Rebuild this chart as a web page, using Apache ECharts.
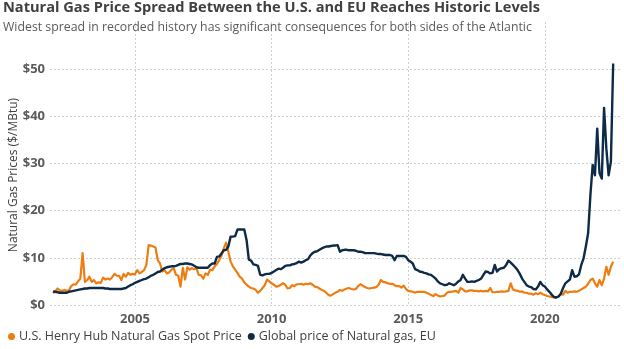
<!DOCTYPE html>
<html>
<head>
<meta charset="utf-8">
<script src="https://cdn.jsdelivr.net/npm/echarts@6/dist/echarts.min.js"></script>
<style>
  html, body { margin: 0; padding: 0; background: #ffffff; }
  #chart { width: 624px; height: 349px; }
</style>
</head>
<body>
<div id="chart"></div>
<script>
// Monthly prices in $/MBtu, January 2002 through July 2022
const firstYear = 2002;

const henryHub = [
  2.5, 2.9, 3.5, 3.1, 3.0, 3.2, 3.0, 3.1, 4.0, 4.4, 4.3, 5.0,      // 2002
  5.6, 11.0, 4.9, 5.3, 6.0, 4.9, 5.3, 4.6, 4.8, 4.7, 5.8, 5.4,     // 2003
  5.6, 5.4, 5.9, 6.6, 6.2, 6.2, 5.3, 6.6, 6.0, 6.8, 6.4, 6.6,      // 2004
  6.5, 7.4, 6.7, 7.0, 7.4, 8.5, 12.7, 12.6, 12.4, 12.2, 9.5, 8.8,  // 2005
  7.1, 7.4, 6.7, 6.9, 7.5, 7.8, 6.4, 6.2, 3.9, 7.9, 5.4, 8.0,      // 2006
  7.5, 7.8, 7.6, 7.8, 6.4, 6.3, 5.6, 6.7, 6.4, 7.5, 7.4, 8.2,      // 2007
  8.7, 9.5, 10.5, 12.0, 13.2, 11.3, 9.2, 8.2, 7.5, 6.8, 6.0, 5.6,  // 2008
  4.8, 4.3, 3.9, 3.6, 3.5, 3.2, 2.6, 3.0, 3.6, 4.2, 5.4, 5.0,      // 2009
  4.6, 4.3, 3.9, 4.0, 4.3, 4.6, 4.3, 3.5, 3.6, 4.2, 4.0, 4.4,      // 2010
  4.4, 4.5, 4.3, 4.5, 4.4, 4.6, 4.3, 3.9, 3.8, 3.5, 3.2, 3.0,      // 2011
  2.6, 2.1, 2.0, 2.3, 2.6, 2.8, 3.2, 3.0, 3.3, 3.5, 3.6, 3.4,      // 2012
  3.3, 3.4, 4.0, 4.4, 4.1, 3.8, 3.6, 3.5, 3.6, 3.7, 3.8, 4.3,      // 2013
  5.3, 4.9, 4.8, 4.6, 4.5, 4.5, 4.2, 4.0, 4.0, 3.7, 4.1, 3.4,      // 2014
  3.0, 2.9, 2.8, 2.6, 2.8, 2.8, 2.8, 2.8, 2.6, 2.4, 2.1, 1.9,      // 2015
  2.3, 2.0, 1.8, 1.9, 2.0, 2.6, 2.8, 2.8, 2.9, 3.0, 2.6, 3.6,      // 2016
  3.3, 2.9, 2.9, 3.1, 3.1, 3.0, 3.0, 2.9, 3.0, 2.9, 3.0, 2.9,      // 2017
  3.6, 2.7, 2.7, 2.8, 2.8, 2.9, 2.8, 2.9, 3.0, 4.6, 3.3, 3.1,      // 2018
  3.0, 2.8, 2.9, 2.6, 2.6, 2.4, 2.4, 2.2, 2.5, 2.3, 2.6, 2.3,      // 2019
  2.1, 1.9, 1.8, 1.7, 1.6, 1.6, 1.8, 2.3, 2.2, 3.0, 2.6, 2.8,      // 2020
  2.8, 2.9, 2.8, 3.0, 3.3, 3.6, 3.9, 4.5, 5.3, 5.6, 4.6, 3.9,      // 2021
  5.3, 4.2, 5.6, 8.1, 6.4, 8.1, 9.2                                // 2022
];

const euGas = [
  2.9, 2.8, 2.7, 2.6, 2.6, 2.6, 2.6, 2.8, 2.9, 3.0, 3.1, 3.2,            // 2002
  3.3, 3.4, 3.5, 3.5, 3.6, 3.6, 3.6, 3.6, 3.6, 3.6, 3.6, 3.5,            // 2003
  3.5, 3.4, 3.4, 3.4, 3.4, 3.4, 3.4, 3.5, 3.6, 3.9, 4.2, 4.4,            // 2004
  4.7, 4.9, 5.1, 5.3, 5.5, 5.6, 5.9, 6.2, 6.4, 6.7, 7.0, 7.1,            // 2005
  7.5, 7.8, 8.0, 8.1, 8.2, 8.2, 8.3, 8.5, 8.7, 8.7, 8.8, 8.8,            // 2006
  8.7, 8.6, 8.3, 8.0, 7.9, 7.9, 7.9, 7.9, 7.9, 8.5, 8.8, 8.8,            // 2007
  10.2, 10.3, 10.9, 11.6, 11.7, 12.4, 14.5, 14.5, 14.6, 16.0, 16.0, 16.0, // 2008
  16.0, 13.8, 9.6, 9.4, 8.6, 8.5, 8.3, 6.4, 6.3, 6.5, 6.6, 6.6,          // 2009
  6.8, 7.1, 7.4, 7.7, 7.6, 7.9, 8.3, 8.4, 8.4, 8.6, 8.7, 8.9,            // 2010
  9.2, 9.0, 9.2, 9.5, 9.7, 10.5, 11.0, 11.3, 11.4, 11.7, 12.0, 12.2,     // 2011
  12.4, 12.4, 12.5, 12.6, 12.6, 12.7, 11.3, 11.6, 11.7, 11.7, 11.6, 11.6, // 2012
  11.6, 11.5, 11.3, 11.3, 11.2, 11.0, 11.0, 11.0, 11.0, 11.0, 10.9, 10.8, // 2013
  10.8, 10.7, 10.6, 10.6, 10.6, 10.4, 9.5, 10.4, 10.4, 10.4, 10.4, 10.2,  // 2014
  9.5, 9.2, 8.8, 7.6, 7.4, 7.1, 7.0, 6.8, 6.7, 6.5, 6.4, 6.0,            // 2015
  5.6, 5.0, 4.6, 4.4, 4.2, 4.3, 4.6, 4.4, 4.2, 4.5, 5.0, 5.3,            // 2016
  6.4, 5.6, 4.9, 4.9, 5.0, 4.9, 5.1, 5.3, 5.6, 6.4, 7.1, 7.0,            // 2017
  6.7, 6.8, 8.5, 7.1, 7.6, 7.8, 7.9, 8.5, 9.4, 9.0, 8.5, 8.0,            // 2018
  7.4, 6.6, 5.6, 4.9, 4.2, 3.9, 3.8, 3.4, 3.3, 3.9, 4.9, 4.2,            // 2019
  3.9, 3.3, 2.8, 2.2, 1.7, 1.6, 1.8, 2.4, 3.6, 4.6, 5.0, 5.4,            // 2020
  7.4, 6.0, 6.1, 6.5, 8.5, 9.9, 12.4, 15.2, 23.3, 29.7, 27.5, 37.4,      // 2021
  28.0, 26.8, 41.8, 33.2, 27.5, 30.4, 51.2                               // 2022
];

const yearTicks = [2005, 2010, 2015, 2020];
const seriesNames = ['U.S. Henry Hub Natural Gas Spot Price', 'Global price of Natural gas, EU'];
const seriesColors = ['#EE7D11', '#0D2B47'];

// Place each monthly value at its date, expressed in decimal years
function toPoints(values) {
  return values.map((v, i) => [firstYear + i / 12, v]);
}

const FONT = 'Open Sans';
const gridLine = { show: true, lineStyle: { color: '#cfcfcf', type: [2, 2], width: 1 } };

const chart = echarts.init(document.getElementById('chart'), null, { renderer: 'canvas' });
chart.setOption({
  animation: false,
  textStyle: { fontFamily: FONT },
  title: {
    left: 3, top: 0, padding: 0, itemGap: 6,
    text: 'Natural Gas Price Spread Between the U.S. and EU Reaches Historic Levels',
    subtext: 'Widest spread in recorded history has significant consequences for both sides of the Atlantic',
    textStyle: { fontFamily: FONT, fontSize: 14.6, fontWeight: 'bold', color: '#404040' },
    subtextStyle: { fontFamily: FONT, fontSize: 12.3, color: '#5a5a5a' }
  },
  legend: {
    left: 8, top: 330, padding: 0,
    icon: 'circle', itemWidth: 7, itemHeight: 7, itemGap: 6,
    textStyle: { fontFamily: FONT, fontSize: 12.5, color: '#404040', padding: [0, 0, 0, -1] },
    data: seriesNames
  },
  grid: { left: 50, right: 4, top: 22, bottom: 44, containLabel: false },
  xAxis: {
    type: 'value',
    min: 2001.89,
    max: 2022.75,
    axisLine: { show: false },
    axisTick: { show: false, customValues: yearTicks },
    axisLabel: {
      customValues: yearTicks,
      margin: 8,
      fontFamily: FONT, fontSize: 13, fontWeight: 'bold', color: '#5a5a5a',
      formatter: v => String(v)
    },
    splitLine: gridLine
  },
  yAxis: {
    type: 'value',
    min: 0, max: 60, interval: 10,
    axisLine: { show: false },
    axisTick: { show: false },
    axisLabel: {
      margin: 5, showMaxLabel: false,
      fontFamily: FONT, fontSize: 13, fontWeight: 'bold', color: '#5a5a5a',
      formatter: v => '$' + v
    },
    splitLine: Object.assign({ showMaxLine: false }, gridLine)
  },
  graphic: [{
    type: 'text',
    x: 14, y: 175, rotation: Math.PI / 2,
    style: {
      text: 'Natural Gas Prices ($/MBtu)',
      fontFamily: FONT, fontSize: 12, fill: '#404040',
      align: 'center', verticalAlign: 'middle'
    }
  }],
  series: [
    {
      name: seriesNames[0], type: 'line', data: toPoints(henryHub),
      showSymbol: false, color: seriesColors[0],
      lineStyle: { width: 2.2, join: 'round' }
    },
    {
      name: seriesNames[1], type: 'line', data: toPoints(euGas),
      showSymbol: false, color: seriesColors[1],
      lineStyle: { width: 2.4, join: 'round' }
    }
  ]
});
</script>
</body>
</html>
